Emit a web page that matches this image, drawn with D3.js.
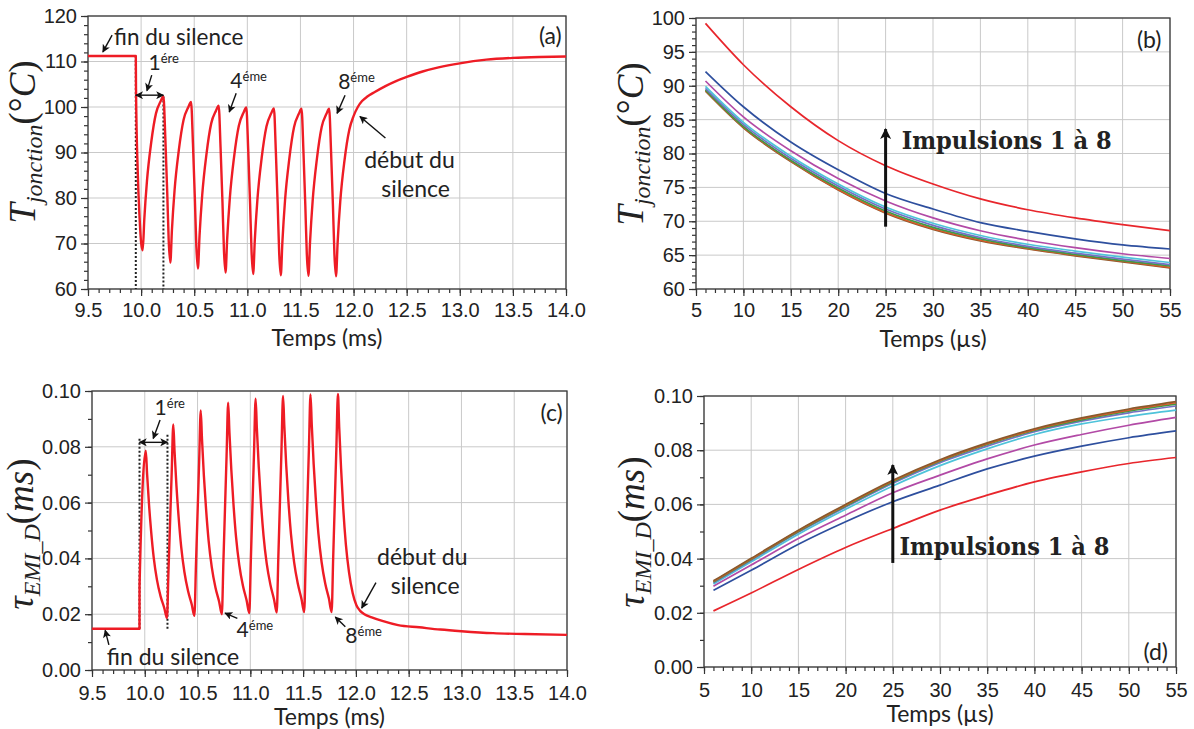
<!DOCTYPE html>
<html><head><meta charset="utf-8">
<script src="https://cdn.jsdelivr.net/npm/d3@7"></script>
<style>body{margin:0;background:#fff}svg{display:block}</style>
</head><body>
<svg id="c" width="1194" height="729"></svg>
<script>
// ---------------- DATA ----------------
// Panel (a): junction temperature vs time (ms)
const aTime = [9.5, 9.95, 9.952, 9.968, 9.986, 10.0, 10.015, 10.03, 10.055, 10.095, 10.14, 10.185, 10.21,
 10.228, 10.246, 10.26, 10.275, 10.29, 10.315, 10.355, 10.40, 10.445, 10.47,
 10.488, 10.506, 10.52, 10.535, 10.55, 10.575, 10.615, 10.66, 10.705, 10.73,
 10.748, 10.766, 10.78, 10.795, 10.81, 10.835, 10.875, 10.92, 10.965, 10.99,
 11.008, 11.026, 11.04, 11.055, 11.07, 11.095, 11.135, 11.18, 11.225, 11.25,
 11.268, 11.286, 11.30, 11.315, 11.33, 11.355, 11.395, 11.44, 11.485, 11.51,
 11.528, 11.546, 11.56, 11.575, 11.59, 11.615, 11.655, 11.70, 11.745, 11.77,
 11.788, 11.806, 11.82, 11.835, 11.85, 11.875, 11.915, 11.96, 12.0, 12.04, 12.08, 12.13, 12.2, 12.3, 12.4, 12.5, 12.65, 12.8, 13.0, 13.25, 13.5, 13.75, 14.0];
const aTemp = [111.2, 111.2, 104.0, 86.0, 75.5, 70.2, 68.5, 75.3, 83.7, 92.2, 98.6, 101.3, 102.3,
 93.2, 81.1, 70.5, 65.8, 72.9, 81.7, 90.5, 97.2, 100.0, 101.1,
 92.0, 79.9, 69.3, 64.5, 71.7, 80.6, 89.6, 96.4, 99.2, 100.3,
 91.1, 79.0, 68.4, 63.6, 70.9, 79.9, 89.0, 95.9, 98.8, 99.9,
 90.8, 78.7, 68.1, 63.3, 70.6, 79.7, 88.8, 95.7, 98.6, 99.7,
 90.5, 78.4, 67.8, 63.0, 70.3, 79.5, 88.6, 95.6, 98.5, 99.6,
 90.4, 78.3, 67.7, 62.9, 70.2, 79.4, 88.6, 95.6, 98.5, 99.6,
 90.4, 78.3, 67.6, 62.8, 70.2, 79.3, 88.3, 95.0, 98.0, 100.0, 101.3, 102.3, 103.3, 104.6, 105.7, 106.6, 107.8, 108.7, 109.6, 110.4, 110.8, 111.0, 111.1];

// Panel (c): tau_EMI_D vs time (ms)
const cTime = [9.5, 9.95, 9.9505, 10.01,
 10.022, 10.04, 10.06, 10.085, 10.115, 10.15, 10.185, 10.21,
 10.225, 10.255, 10.27,
 10.282, 10.30, 10.32, 10.345, 10.375, 10.41, 10.445, 10.47,
 10.485, 10.515, 10.53,
 10.542, 10.56, 10.58, 10.605, 10.635, 10.67, 10.705, 10.73,
 10.745, 10.775, 10.79,
 10.802, 10.82, 10.84, 10.865, 10.895, 10.93, 10.965, 10.99,
 11.005, 11.035, 11.05,
 11.062, 11.08, 11.10, 11.125, 11.155, 11.19, 11.225, 11.25,
 11.265, 11.295, 11.31,
 11.322, 11.34, 11.36, 11.385, 11.415, 11.45, 11.485, 11.51,
 11.525, 11.555, 11.57,
 11.582, 11.60, 11.62, 11.645, 11.675, 11.71, 11.745, 11.77,
 11.785, 11.815, 11.83,
 11.842, 11.86, 11.88, 11.905, 11.935, 11.97, 12.005, 12.04, 12.08, 12.15, 12.25, 12.4, 12.6, 12.8, 13.0, 13.3, 13.6, 14.0];
const cTau = [0.0148, 0.0148, 0.030, 0.0786,
 0.0702, 0.0594, 0.0498, 0.0402, 0.0324, 0.0264, 0.0222, 0.0186,
 0.0360, 0.0707, 0.0880,
 0.0784, 0.0660, 0.0551, 0.0441, 0.0352, 0.0283, 0.0235, 0.0194,
 0.0378, 0.0746, 0.0930,
 0.0828, 0.0696, 0.0580, 0.0463, 0.0368, 0.0295, 0.0244, 0.0200,
 0.0390, 0.0769, 0.0958,
 0.0852, 0.0717, 0.0596, 0.0475, 0.0377, 0.0302, 0.0249, 0.0204,
 0.0396, 0.0780, 0.0972,
 0.0865, 0.0727, 0.0604, 0.0482, 0.0382, 0.0306, 0.0252, 0.0206,
 0.0400, 0.0788, 0.0982,
 0.0874, 0.0734, 0.0610, 0.0487, 0.0386, 0.0309, 0.0254, 0.0208,
 0.0403, 0.0793, 0.0988,
 0.0879, 0.0738, 0.0614, 0.0489, 0.0387, 0.0309, 0.0255, 0.0208,
 0.0403, 0.0794, 0.0989,
 0.0870, 0.0720, 0.0580, 0.0450, 0.0350, 0.0275, 0.0232, 0.0212, 0.0200, 0.0189, 0.0176, 0.0161, 0.0153, 0.0145, 0.0139, 0.0132, 0.0129, 0.0126];

// Panels (b) and (d): pulses 1..8 vs time (µs)
const pulseTime = [6, 10, 15, 20, 25, 30, 35, 40, 45, 50, 55];
const bPulse1 = [99.2, 93.1, 86.9, 81.9, 78.2, 75.5, 73.3, 71.7, 70.5, 69.5, 68.6];
const bPulse2 = [92.1, 86.9, 81.7, 77.6, 74.1, 71.8, 69.8, 68.5, 67.4, 66.5, 65.9];
const bPulse3 = [90.7, 85.4, 80.4, 76.3, 73.0, 70.5, 68.6, 67.2, 66.1, 65.2, 64.5];
const bPulse4 = [89.9, 84.6, 79.6, 75.5, 72.1, 69.7, 67.9, 66.6, 65.6, 64.7, 63.9];
const bPulse5 = [89.6, 84.3, 79.3, 75.2, 71.8, 69.4, 67.6, 66.3, 65.3, 64.4, 63.6];
const bPulse6 = [89.4, 84.0, 79.0, 74.9, 71.5, 69.1, 67.4, 66.1, 65.1, 64.2, 63.4];
const bPulse7 = [89.3, 83.9, 78.9, 74.7, 71.3, 68.9, 67.2, 66.0, 65.0, 64.1, 63.2];
const bPulse8 = [89.2, 83.8, 78.8, 74.6, 71.2, 68.8, 67.1, 65.9, 64.9, 64.0, 63.1];

const dPulse1 = [0.0207, 0.0273, 0.0360, 0.0441, 0.0511, 0.0579, 0.0634, 0.0683, 0.0720, 0.0751, 0.0773];
const dPulse2 = [0.0283, 0.0357, 0.0453, 0.0536, 0.0610, 0.0671, 0.0731, 0.0778, 0.0815, 0.0846, 0.0871];
const dPulse3 = [0.0298, 0.0376, 0.0474, 0.0560, 0.0643, 0.0708, 0.0768, 0.0819, 0.0858, 0.0892, 0.0921];
const dPulse4 = [0.0306, 0.0388, 0.0490, 0.0582, 0.0668, 0.0743, 0.0805, 0.0858, 0.0897, 0.0925, 0.0948];
const dPulse5 = [0.0311, 0.0394, 0.0497, 0.0590, 0.0678, 0.0754, 0.0815, 0.0868, 0.0907, 0.0938, 0.0963];
const dPulse6 = [0.0314, 0.0397, 0.0500, 0.0594, 0.0683, 0.0759, 0.0821, 0.0873, 0.0912, 0.0944, 0.0970];
const dPulse7 = [0.0316, 0.0399, 0.0503, 0.0597, 0.0686, 0.0762, 0.0824, 0.0876, 0.0916, 0.0948, 0.0975];
const dPulse8 = [0.0318, 0.0401, 0.0505, 0.0600, 0.0689, 0.0765, 0.0827, 0.0879, 0.0919, 0.0952, 0.0979];

const pulseColors = ["#e8262c", "#2e4f9e", "#b24aa6", "#4ec3da", "#7470c4", "#3e9b45", "#d9592b", "#8a5a2c"];

// Tick values / labels
const msTicks = [9.5, 10, 10.5, 11, 11.5, 12, 12.5, 13, 13.5, 14];
const msLabels = ["9.5", "10.0", "10.5", "11.0", "11.5", "12.0", "12.5", "13.0", "13.5", "14.0"];
const usTicks = [5, 10, 15, 20, 25, 30, 35, 40, 45, 50, 55];
const usLabels = ["5", "10", "15", "20", "25", "30", "35", "40", "45", "50", "55"];
const aYTicks = [60, 70, 80, 90, 100, 110, 120];
const aYLabels = ["60", "70", "80", "90", "100", "110", "120"];
const bYTicks = [60, 65, 70, 75, 80, 85, 90, 95, 100];
const bYLabels = ["60", "65", "70", "75", "80", "85", "90", "95", "100"];
const tauTicks = [0, 0.02, 0.04, 0.06, 0.08, 0.10];
const tauLabels = ["0.00", "0.02", "0.04", "0.06", "0.08", "0.10"];

// ---------------- DRAWING ----------------
const svg = d3.select('#c');
const TICKFONT = '"Liberation Sans", Arial, sans-serif';
const LABFONT = 'Lato, "Open Sans", sans-serif';
const MATHFONT = '"Liberation Serif", "DejaVu Serif", serif';

const defs = svg.append('defs');
function marker(id, w, h) {
  defs.append('marker').attr('id', id).attr('viewBox', '0 0 10 10')
    .attr('refX', 9).attr('refY', 5).attr('markerUnits', 'userSpaceOnUse')
    .attr('markerWidth', w).attr('markerHeight', h).attr('orient', 'auto-start-reverse')
    .append('path').attr('d', 'M0,0 L10,5 L0,10 L2.5,5 Z').attr('fill', '#111');
}
marker('ah', 9, 8);
marker('ahb', 13, 11);

function makePanel(o) {
  const g = svg.append('g');
  const x = d3.scaleLinear().domain(o.xd).range([o.l, o.r]);
  const y = d3.scaleLinear().domain(o.yd).range([o.b, o.t]);
  g.selectAll('line.gx').data(o.xt).join('line').attr('class', 'gx')
    .attr('x1', d => x(d)).attr('x2', d => x(d)).attr('y1', o.t).attr('y2', o.b)
    .attr('stroke', '#c9c9c9').attr('stroke-width', 1);
  g.selectAll('line.gy').data(o.yt).join('line').attr('class', 'gy')
    .attr('y1', d => y(d)).attr('y2', d => y(d)).attr('x1', o.l).attr('x2', o.r)
    .attr('stroke', '#c9c9c9').attr('stroke-width', 1);

  function styleAxis(sel) {
    sel.select('.domain').remove();
    sel.selectAll('line').attr('stroke', '#333').attr('stroke-width', 1.2);
    sel.selectAll('text').attr('font-family', TICKFONT).attr('font-size', 20).attr('fill', '#222');
  }
  g.append('g').attr('transform', `translate(0,${o.b})`)
    .call(d3.axisBottom(x).tickValues(o.xm).tickSize(4).tickFormat('')).call(styleAxis);
  g.append('g').attr('transform', `translate(0,${o.b})`)
    .call(d3.axisBottom(x).tickValues(o.xt).tickSize(7).tickPadding(o.xpad).tickFormat((d, i) => o.xl[i])).call(styleAxis);
  g.append('g').attr('transform', `translate(${o.l},0)`)
    .call(d3.axisLeft(y).tickValues(o.ym).tickSize(4).tickFormat('')).call(styleAxis);
  g.append('g').attr('transform', `translate(${o.l},0)`)
    .call(d3.axisLeft(y).tickValues(o.yt).tickSize(7).tickPadding(4).tickFormat((d, i) => o.yl[i])).call(styleAxis);

  g.append('rect').attr('x', o.l).attr('y', o.t).attr('width', o.r - o.l).attr('height', o.b - o.t)
    .attr('fill', 'none').attr('stroke', '#3a3a3a').attr('stroke-width', 1.3);
  return { g, x, y, o };
}

function plotLine(p, xs, ys, color, w) {
  const line = d3.line().x(d => p.x(d[0])).y(d => p.y(d[1])).curve(d3.curveMonotoneX);
  p.g.append('path').datum(xs.map((t, i) => [t, ys[i]]))
    .attr('d', line).attr('fill', 'none').attr('stroke', color).attr('stroke-width', w)
    .attr('stroke-linejoin', 'round');
}
function txt(p, t, v, s, size, anchor) {
  return p.g.append('text').attr('x', p.x(t)).attr('y', p.y(v)).text(s)
    .attr('font-family', LABFONT).attr('font-size', size).attr('fill', '#222')
    .attr('text-anchor', anchor || 'start');
}
function ordinal(p, t, v, n, sup) {
  const e = p.g.append('text').attr('x', p.x(t)).attr('y', p.y(v))
    .attr('font-family', LABFONT).attr('fill', '#222');
  e.append('tspan').attr('font-size', 21).text(n);
  e.append('tspan').attr('font-size', 13).attr('dy', -7).text(sup);
}
function arrow(p, t1, v1, t2, v2, big, both) {
  const l = p.g.append('line').attr('x1', p.x(t1)).attr('y1', p.y(v1)).attr('x2', p.x(t2)).attr('y2', p.y(v2))
    .attr('stroke', '#111').attr('stroke-width', big ? 3 : 1.4)
    .attr('marker-end', big ? 'url(#ahb)' : 'url(#ah)');
  if (both) l.attr('marker-start', 'url(#ah)');
}
function dotted(p, t, v1, v2) {
  p.g.append('line').attr('x1', p.x(t)).attr('x2', p.x(t)).attr('y1', p.y(v1)).attr('y2', p.y(v2))
    .attr('stroke', '#222').attr('stroke-width', 2).attr('stroke-dasharray', '2,2');
}
function yTitle(cx, cy, main, sub, unitParts) {
  const e = svg.append('text').attr('transform', `translate(${cx},${cy}) rotate(-90)`)
    .attr('text-anchor', 'middle').attr('font-family', MATHFONT).attr('fill', '#222');
  e.append('tspan').attr('font-size', 37).attr('font-style', 'italic').text(main);
  e.append('tspan').attr('font-size', 24).attr('font-style', 'italic').attr('dy', 7).text(sub);
  e.append('tspan').attr('font-size', 37).attr('dy', -7).text('(' + unitParts[0]);
  e.append('tspan').attr('font-size', 37).attr('font-style', 'italic').text(unitParts[1]);
  e.append('tspan').attr('font-size', 37).text(')');
}
function xTitle(p, s, yPix) {
  p.g.append('text').attr('x', (p.o.l + p.o.r) / 2).attr('y', yPix).attr('text-anchor', 'middle')
    .attr('font-family', LABFONT).attr('font-size', 23).attr('fill', '#222').text(s);
}
function impulsions(p, t, v) {
  p.g.append('text').attr('x', p.x(t)).attr('y', p.y(v)).text('Impulsions 1 à 8')
    .attr('font-family', '"DejaVu Serif", serif').attr('font-weight', 'bold').attr('font-size', 24)
    .attr('fill', '#222').attr('textLength', 210).attr('lengthAdjust', 'spacingAndGlyphs');
}

// ---- Panel (a)
const A = makePanel({ l: 88, r: 566, t: 16, b: 289, xd: [9.5, 14], yd: [60, 120],
  xt: msTicks, xl: msLabels, xm: d3.range(9.5, 14.001, 0.1), xpad: 7,
  yt: aYTicks, yl: aYLabels, ym: d3.range(60, 120.01, 2) });
dotted(A, 9.95, 111.2, 60);
dotted(A, 10.21, 102.3, 60);
plotLine(A, aTime, aTemp, '#ee1c25', 2.4);
arrow(A, 9.95, 102.6, 10.21, 102.6, false, true);
txt(A, 9.745, 113.6, 'fin du silence', 22.5);
arrow(A, 9.727, 115.8, 9.64, 112.1);
ordinal(A, 10.07, 108.2, '1', 'ére');
arrow(A, 10.10, 107.0, 10.055, 103.6);
ordinal(A, 10.84, 104.1, '4', 'éme');
arrow(A, 10.895, 103.0, 10.83, 98.9);
ordinal(A, 11.855, 103.9, '8', 'éme');
arrow(A, 11.92, 102.6, 11.845, 98.6);
txt(A, 12.1, 86.5, 'début du', 23);
txt(A, 12.26, 80.3, 'silence', 23);
arrow(A, 12.3, 93.2, 12.06, 97.9);
txt(A, 13.96, 113.8, '(a)', 23, 'end');
xTitle(A, 'Temps (ms)', 346);
yTitle(35, 142, 'T', 'jonction', ['°', 'C']);

// ---- Panel (b)
const B = makePanel({ l: 696, r: 1170, t: 18, b: 289, xd: [5, 55], yd: [60, 100],
  xt: usTicks, xl: usLabels, xm: d3.range(5, 55.01, 1), xpad: 7,
  yt: bYTicks, yl: bYLabels, ym: d3.range(60, 100.01, 1) });
[bPulse8, bPulse7, bPulse6, bPulse5, bPulse4, bPulse3, bPulse2, bPulse1].forEach((s, i) =>
  plotLine(B, pulseTime, s, pulseColors[7 - i], 1.7));
arrow(B, 25, 69.2, 25, 83.6, true);
impulsions(B, 26.7, 80.6);
txt(B, 54.1, 95.6, '(b)', 23, 'end');
xTitle(B, 'Temps (µs)', 347);
yTitle(643, 144, 'T', 'jonction', ['°', 'C']);

// ---- Panel (c)
const C = makePanel({ l: 92, r: 567, t: 391, b: 670, xd: [9.5, 14], yd: [0, 0.1],
  xt: msTicks, xl: msLabels, xm: d3.range(9.5, 14.001, 0.1), xpad: 9,
  yt: tauTicks, yl: tauLabels, ym: d3.range(0, 0.1001, 0.01) });
dotted(C, 9.95, 0.0148, 0.0836);
dotted(C, 10.215, 0.0148, 0.0850);
plotLine(C, cTime, cTau, '#ee1c25', 2.4);
arrow(C, 9.95, 0.0816, 10.215, 0.0816, false, true);
ordinal(C, 10.093, 0.0914, '1', 'ére');
arrow(C, 10.145, 0.0896, 10.08, 0.0830);
ordinal(C, 10.87, 0.0119, '4', 'éme');
arrow(C, 10.877, 0.0185, 10.76, 0.0204);
ordinal(C, 11.90, 0.0096, '8', 'éme');
arrow(C, 11.90, 0.0155, 11.805, 0.0190);
txt(C, 12.2, 0.0376, 'début du', 23);
txt(C, 12.33, 0.0272, 'silence', 23);
arrow(C, 12.19, 0.0313, 12.055, 0.0222);
txt(C, 9.64, 0.0018, 'fin du silence', 23);
arrow(C, 9.66, 0.0090, 9.625, 0.0142);
txt(C, 13.96, 0.0891, '(c)', 23, 'end');
xTitle(C, 'Temps (ms)', 725);
yTitle(33, 534, 'τ', 'EMI_D', ['', 'ms']);

// ---- Panel (d)
const D = makePanel({ l: 704, r: 1176, t: 396, b: 667, xd: [5, 55], yd: [0, 0.1],
  xt: usTicks, xl: usLabels, xm: d3.range(5, 55.01, 1), xpad: 9,
  yt: tauTicks, yl: tauLabels, ym: d3.range(0, 0.1001, 0.01) });
[dPulse1, dPulse2, dPulse3, dPulse4, dPulse5, dPulse6, dPulse7, dPulse8].forEach((s, i) =>
  plotLine(D, pulseTime, s, pulseColors[i], 1.7));
arrow(D, 25, 0.0384, 25, 0.0745, true);
impulsions(D, 25.7, 0.0413);
txt(D, 54.15, 0.0026, '(d)', 23, 'end');
xTitle(D, 'Temps (µs)', 722);
yTitle(644, 532, 'τ', 'EMI_D', ['', 'ms']);
</script>
</body></html>
